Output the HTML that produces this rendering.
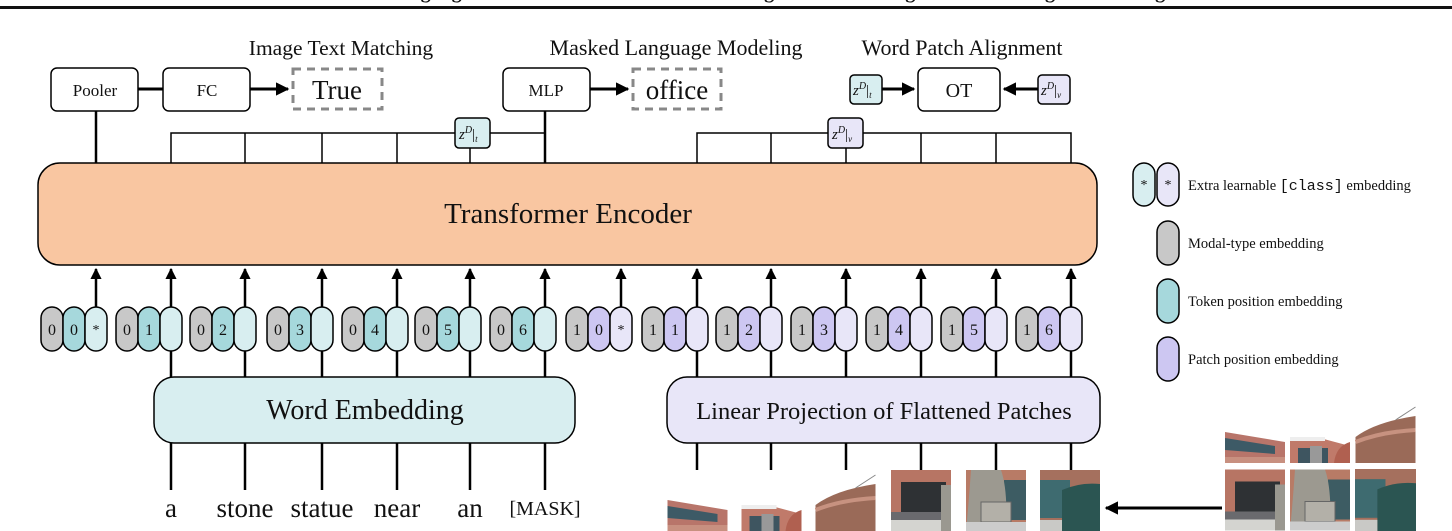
<!DOCTYPE html>
<html><head><meta charset="utf-8"><style>
html,body{margin:0;padding:0;background:#fff;width:1452px;height:531px;overflow:hidden}
svg{display:block}
text{font-family:"Liberation Serif",serif;fill:#111}
</style></head><body>
<svg width="1452" height="531" viewBox="0 0 1452 531" xmlns="http://www.w3.org/2000/svg">
<defs>
<marker id="ah" viewBox="0 0 10 10" refX="9" refY="5" markerWidth="4.5" markerHeight="4.5" orient="auto-start-reverse" markerUnits="strokeWidth"><path d="M0,0 L10,5 L0,10 z" fill="#000"/></marker>
<symbol id="p1" viewBox="0 0 60 61"><rect width="60" height="61" fill="#fff"/><polygon points="0,30 60,40 60,61 0,61" fill="#b8756a"/><polygon points="0,36 50,44 50,52 0,48" fill="#3d5a66"/><rect x="0" y="55" width="60" height="6" fill="#c89080"/></symbol>
<symbol id="p2" viewBox="0 0 60 61"><rect width="60" height="61" fill="#fff"/><polygon points="0,36 30,36 60,44 60,61 0,61" fill="#c07a6a"/><rect x="0" y="35" width="35" height="4" fill="#eee"/><rect x="8" y="46" width="30" height="15" fill="#3e5560"/><rect x="20" y="44" width="12" height="17" fill="#999"/><path d="M44,61 Q46,44 60,40 L60,61z" fill="#b06050"/></symbol>
<symbol id="p3" viewBox="0 0 60 61"><rect width="60" height="61" fill="#fff"/><path d="M0,35 Q20,20 60,14 L60,61 L0,61z" fill="#9a6a58"/><path d="M0,40 Q25,30 60,28" stroke="#c79280" stroke-width="4" fill="none"/><path d="M40,18 L60,5" stroke="#888" stroke-width="1"/></symbol>
<symbol id="p4" viewBox="0 0 60 61"><rect width="60" height="61" fill="#b77564"/><rect x="10" y="12" width="45" height="30" fill="#2e3134"/><rect x="0" y="42" width="60" height="10" fill="#6a6a6e"/><rect x="0" y="50" width="60" height="11" fill="#d4d4d0"/><rect x="50" y="15" width="10" height="46" fill="#9a9890"/></symbol>
<symbol id="p5" viewBox="0 0 60 61"><rect width="60" height="61" fill="#b87b66"/><rect x="38" y="10" width="22" height="40" fill="#3d5c63"/><path d="M5,0 L35,0 Q42,20 40,61 L0,61 Q3,30 5,0z" fill="#9c9990"/><rect x="15" y="32" width="30" height="20" fill="#b3b0a8" stroke="#666" stroke-width="1"/><rect x="0" y="52" width="60" height="9" fill="#ccc"/></symbol>
<symbol id="p6" viewBox="0 0 60 61"><rect width="60" height="61" fill="#a5705e"/><rect x="0" y="10" width="30" height="38" fill="#3e6b70"/><path d="M22,61 L22,20 Q40,12 60,14 L60,61z" fill="#2b5552"/><rect x="0" y="50" width="22" height="11" fill="#c9c9c6"/></symbol>
</defs>

<rect x="0" y="6" width="1452" height="3" fill="#111"/>
<text x="726" y="-2" font-size="20" font-weight="bold" text-anchor="middle">Vision-and-Language Transformer with Word Patch Alignment and Image-Text Matching Pre-training</text>

<text x="341" y="55" font-size="21.5" text-anchor="middle">Image Text Matching</text>
<text x="676" y="55" font-size="22" text-anchor="middle">Masked Language Modeling</text>
<text x="962" y="55" font-size="22" text-anchor="middle">Word Patch Alignment</text>

<g stroke="#000" stroke-width="1.5" fill="#fff">
<rect x="51" y="68" width="87" height="43" rx="6"/>
<rect x="163" y="68" width="87" height="43" rx="6"/>
<rect x="503" y="68" width="87" height="43" rx="6"/>
<rect x="918" y="68" width="82" height="43" rx="6"/>
</g>
<text x="95" y="96" font-size="17" text-anchor="middle">Pooler</text>
<text x="207" y="96" font-size="17" text-anchor="middle">FC</text>
<text x="546" y="96" font-size="17" text-anchor="middle">MLP</text>
<text x="959" y="97" font-size="20" text-anchor="middle">OT</text>

<g fill="none" stroke="#888" stroke-width="3" stroke-dasharray="8,6">
<rect x="293" y="69" width="89" height="40"/>
<rect x="633" y="69" width="88" height="40"/>
</g>
<text x="337" y="99" font-size="27" text-anchor="middle">True</text>
<text x="677" y="99" font-size="27" text-anchor="middle">office</text>

<g stroke="#000" stroke-width="3">
<line x1="138" y1="89" x2="163" y2="89"/>
<line x1="250" y1="89" x2="288" y2="89" marker-end="url(#ah)"/>
<line x1="590" y1="89" x2="628" y2="89" marker-end="url(#ah)"/>
<line x1="882" y1="89" x2="914" y2="89" marker-end="url(#ah)"/>
<line x1="1038" y1="89" x2="1004" y2="89" marker-end="url(#ah)"/>
</g>

<g stroke="#000" stroke-width="1.5" fill="none">
<polyline points="171,163 171,133 545,133"/>
<line x1="245" y1="133" x2="245" y2="163"/>
<line x1="322" y1="133" x2="322" y2="163"/>
<line x1="397" y1="133" x2="397" y2="163"/>
<line x1="470" y1="133" x2="470" y2="163"/>
<polyline points="697,163 697,133 1071,133 1071,163"/>
<line x1="771" y1="133" x2="771" y2="163"/>
<line x1="846" y1="133" x2="846" y2="163"/>
<line x1="921" y1="133" x2="921" y2="163"/>
<line x1="996" y1="133" x2="996" y2="163"/>
</g>
<g stroke="#000" stroke-width="2.5">
<line x1="96" y1="111" x2="96" y2="163"/>
<line x1="545" y1="111" x2="545" y2="163"/>
</g>

<g stroke="#000" stroke-width="1.5">
<rect x="455" y="118" width="35" height="30" rx="4" fill="#d8eef0"/>
<rect x="828" y="118" width="35" height="30" rx="4" fill="#e8e6f8"/>
<rect x="850" y="75" width="32" height="29" rx="4" fill="#d8eef0"/>
<rect x="1038" y="75" width="32" height="29" rx="4" fill="#e8e6f8"/>
</g>
<g font-size="15" font-style="italic">
<text x="459" y="139">z<tspan dy="-6" font-size="10">D</tspan><tspan dy="6" font-style="normal">|</tspan><tspan dy="3" font-size="9">t</tspan></text>
<text x="832" y="139">z<tspan dy="-6" font-size="10">D</tspan><tspan dy="6" font-style="normal">|</tspan><tspan dy="3" font-size="9">v</tspan></text>
<text x="853" y="95">z<tspan dy="-6" font-size="10">D</tspan><tspan dy="6" font-style="normal">|</tspan><tspan dy="3" font-size="9">t</tspan></text>
<text x="1041" y="95">z<tspan dy="-6" font-size="10">D</tspan><tspan dy="6" font-style="normal">|</tspan><tspan dy="3" font-size="9">v</tspan></text>
</g>

<rect x="38" y="163" width="1059" height="102" rx="22" fill="#f9c6a1" stroke="#000" stroke-width="1.5"/>
<text x="568" y="223" font-size="29" text-anchor="middle">Transformer Encoder</text>

<g stroke="#000" stroke-width="2.5">
<line x1="96" y1="308" x2="96" y2="269" marker-end="url(#ah)"/>
<line x1="171" y1="308" x2="171" y2="269" marker-end="url(#ah)"/>
<line x1="245" y1="308" x2="245" y2="269" marker-end="url(#ah)"/>
<line x1="322" y1="308" x2="322" y2="269" marker-end="url(#ah)"/>
<line x1="397" y1="308" x2="397" y2="269" marker-end="url(#ah)"/>
<line x1="470" y1="308" x2="470" y2="269" marker-end="url(#ah)"/>
<line x1="545" y1="308" x2="545" y2="269" marker-end="url(#ah)"/>
<line x1="621" y1="308" x2="621" y2="269" marker-end="url(#ah)"/>
<line x1="697" y1="308" x2="697" y2="269" marker-end="url(#ah)"/>
<line x1="771" y1="308" x2="771" y2="269" marker-end="url(#ah)"/>
<line x1="846" y1="308" x2="846" y2="269" marker-end="url(#ah)"/>
<line x1="921" y1="308" x2="921" y2="269" marker-end="url(#ah)"/>
<line x1="996" y1="308" x2="996" y2="269" marker-end="url(#ah)"/>
<line x1="1071" y1="308" x2="1071" y2="269" marker-end="url(#ah)"/>
<line x1="171" y1="350" x2="171" y2="377"/><line x1="245" y1="350" x2="245" y2="377"/><line x1="322" y1="350" x2="322" y2="377"/><line x1="397" y1="350" x2="397" y2="377"/><line x1="470" y1="350" x2="470" y2="377"/><line x1="545" y1="350" x2="545" y2="377"/>
<line x1="697" y1="350" x2="697" y2="377"/><line x1="771" y1="350" x2="771" y2="377"/><line x1="846" y1="350" x2="846" y2="377"/><line x1="921" y1="350" x2="921" y2="377"/><line x1="996" y1="350" x2="996" y2="377"/><line x1="1071" y1="350" x2="1071" y2="377"/>
<line x1="171" y1="443" x2="171" y2="490"/><line x1="245" y1="443" x2="245" y2="490"/><line x1="322" y1="443" x2="322" y2="490"/><line x1="397" y1="443" x2="397" y2="490"/><line x1="470" y1="443" x2="470" y2="490"/><line x1="545" y1="443" x2="545" y2="490"/>
<line x1="697" y1="443" x2="697" y2="470"/><line x1="771" y1="443" x2="771" y2="470"/><line x1="846" y1="443" x2="846" y2="470"/><line x1="921" y1="443" x2="921" y2="470"/><line x1="996" y1="443" x2="996" y2="470"/><line x1="1071" y1="443" x2="1071" y2="470"/>
<line x1="1222" y1="508" x2="1106" y2="508" stroke-width="3" marker-end="url(#ah)"/>
</g>

<g stroke="#000" stroke-width="1.5">
<g><rect x="41" y="307" width="22" height="44" rx="11" fill="#c8c8c8"/><rect x="63" y="307" width="22" height="44" rx="11" fill="#a6d8dc"/><rect x="85" y="307" width="22" height="44" rx="11" fill="#d8eef0"/></g>
<g><rect x="116" y="307" width="22" height="44" rx="11" fill="#c8c8c8"/><rect x="138" y="307" width="22" height="44" rx="11" fill="#a6d8dc"/><rect x="160" y="307" width="22" height="44" rx="11" fill="#d8eef0"/></g>
<g><rect x="190" y="307" width="22" height="44" rx="11" fill="#c8c8c8"/><rect x="212" y="307" width="22" height="44" rx="11" fill="#a6d8dc"/><rect x="234" y="307" width="22" height="44" rx="11" fill="#d8eef0"/></g>
<g><rect x="267" y="307" width="22" height="44" rx="11" fill="#c8c8c8"/><rect x="289" y="307" width="22" height="44" rx="11" fill="#a6d8dc"/><rect x="311" y="307" width="22" height="44" rx="11" fill="#d8eef0"/></g>
<g><rect x="342" y="307" width="22" height="44" rx="11" fill="#c8c8c8"/><rect x="364" y="307" width="22" height="44" rx="11" fill="#a6d8dc"/><rect x="386" y="307" width="22" height="44" rx="11" fill="#d8eef0"/></g>
<g><rect x="415" y="307" width="22" height="44" rx="11" fill="#c8c8c8"/><rect x="437" y="307" width="22" height="44" rx="11" fill="#a6d8dc"/><rect x="459" y="307" width="22" height="44" rx="11" fill="#d8eef0"/></g>
<g><rect x="490" y="307" width="22" height="44" rx="11" fill="#c8c8c8"/><rect x="512" y="307" width="22" height="44" rx="11" fill="#a6d8dc"/><rect x="534" y="307" width="22" height="44" rx="11" fill="#d8eef0"/></g>
<g><rect x="566" y="307" width="22" height="44" rx="11" fill="#c8c8c8"/><rect x="588" y="307" width="22" height="44" rx="11" fill="#cdc7f2"/><rect x="610" y="307" width="22" height="44" rx="11" fill="#e8e6f8"/></g>
<g><rect x="642" y="307" width="22" height="44" rx="11" fill="#c8c8c8"/><rect x="664" y="307" width="22" height="44" rx="11" fill="#cdc7f2"/><rect x="686" y="307" width="22" height="44" rx="11" fill="#e8e6f8"/></g>
<g><rect x="716" y="307" width="22" height="44" rx="11" fill="#c8c8c8"/><rect x="738" y="307" width="22" height="44" rx="11" fill="#cdc7f2"/><rect x="760" y="307" width="22" height="44" rx="11" fill="#e8e6f8"/></g>
<g><rect x="791" y="307" width="22" height="44" rx="11" fill="#c8c8c8"/><rect x="813" y="307" width="22" height="44" rx="11" fill="#cdc7f2"/><rect x="835" y="307" width="22" height="44" rx="11" fill="#e8e6f8"/></g>
<g><rect x="866" y="307" width="22" height="44" rx="11" fill="#c8c8c8"/><rect x="888" y="307" width="22" height="44" rx="11" fill="#cdc7f2"/><rect x="910" y="307" width="22" height="44" rx="11" fill="#e8e6f8"/></g>
<g><rect x="941" y="307" width="22" height="44" rx="11" fill="#c8c8c8"/><rect x="963" y="307" width="22" height="44" rx="11" fill="#cdc7f2"/><rect x="985" y="307" width="22" height="44" rx="11" fill="#e8e6f8"/></g>
<g><rect x="1016" y="307" width="22" height="44" rx="11" fill="#c8c8c8"/><rect x="1038" y="307" width="22" height="44" rx="11" fill="#cdc7f2"/><rect x="1060" y="307" width="22" height="44" rx="11" fill="#e8e6f8"/></g>
<rect x="1133" y="163" width="22" height="43" rx="11" fill="#d8eef0"/><rect x="1157" y="163" width="22" height="43" rx="11" fill="#e8e6f8"/>
<rect x="1157" y="221" width="22" height="44" rx="11" fill="#c8c8c8"/>
<rect x="1157" y="279" width="22" height="44" rx="11" fill="#a6d8dc"/>
<rect x="1157" y="337" width="22" height="44" rx="11" fill="#cdc7f2"/>
</g>
<g font-size="16" text-anchor="middle">
<text x="52" y="335">0</text><text x="74" y="335">0</text><text x="96" y="334" font-size="14">*</text>
<text x="127" y="335">0</text><text x="149" y="335">1</text>
<text x="201" y="335">0</text><text x="223" y="335">2</text>
<text x="278" y="335">0</text><text x="300" y="335">3</text>
<text x="353" y="335">0</text><text x="375" y="335">4</text>
<text x="426" y="335">0</text><text x="448" y="335">5</text>
<text x="501" y="335">0</text><text x="523" y="335">6</text>
<text x="577" y="335">1</text><text x="599" y="335">0</text><text x="621" y="334" font-size="14">*</text>
<text x="653" y="335">1</text><text x="675" y="335">1</text>
<text x="727" y="335">1</text><text x="749" y="335">2</text>
<text x="802" y="335">1</text><text x="824" y="335">3</text>
<text x="877" y="335">1</text><text x="899" y="335">4</text>
<text x="952" y="335">1</text><text x="974" y="335">5</text>
<text x="1027" y="335">1</text><text x="1049" y="335">6</text>
<text x="1144" y="189" font-size="14">*</text><text x="1168" y="189" font-size="14">*</text>
</g>
<g font-size="14.5">
<text x="1188" y="190">Extra learnable <tspan font-family="Liberation Mono, monospace" font-size="15">[class]</tspan> embedding</text>
<text x="1188" y="248">Modal-type embedding</text>
<text x="1188" y="306">Token position embedding</text>
<text x="1188" y="364">Patch position embedding</text>
</g>

<rect x="154" y="377" width="421" height="66" rx="20" fill="#d8eef0" stroke="#000" stroke-width="1.5"/>
<text x="365" y="419" font-size="28" text-anchor="middle">Word Embedding</text>
<rect x="667" y="377" width="433" height="66" rx="20" fill="#e8e6f8" stroke="#000" stroke-width="1.5"/>
<text x="884" y="419" font-size="24.5" text-anchor="middle">Linear Projection of Flattened Patches</text>

<g font-size="27" text-anchor="middle">
<text x="171" y="517">a</text><text x="245" y="517">stone</text><text x="322" y="517">statue</text><text x="397" y="517">near</text><text x="470" y="517">an</text>
<text x="545" y="515" font-family="Liberation Mono, monospace" font-size="20">[MASK]</text>
</g>

<use href="#p1" x="667" y="470" width="61" height="61"/>
<use href="#p2" x="741" y="470" width="61" height="61"/>
<use href="#p3" x="815" y="470" width="61" height="61"/>
<use href="#p4" x="891" y="470" width="60" height="61"/>
<use href="#p5" x="966" y="470" width="60" height="61"/>
<use href="#p6" x="1040" y="470" width="60" height="61"/>

<use href="#p1" x="1225" y="402" width="60" height="61"/>
<use href="#p2" x="1290" y="402" width="60" height="61"/>
<use href="#p3" x="1355" y="402" width="61" height="61"/>
<use href="#p4" x="1225" y="469" width="60" height="62"/>
<use href="#p5" x="1290" y="469" width="60" height="62"/>
<use href="#p6" x="1355" y="469" width="61" height="62"/>
</svg>
</body></html>
